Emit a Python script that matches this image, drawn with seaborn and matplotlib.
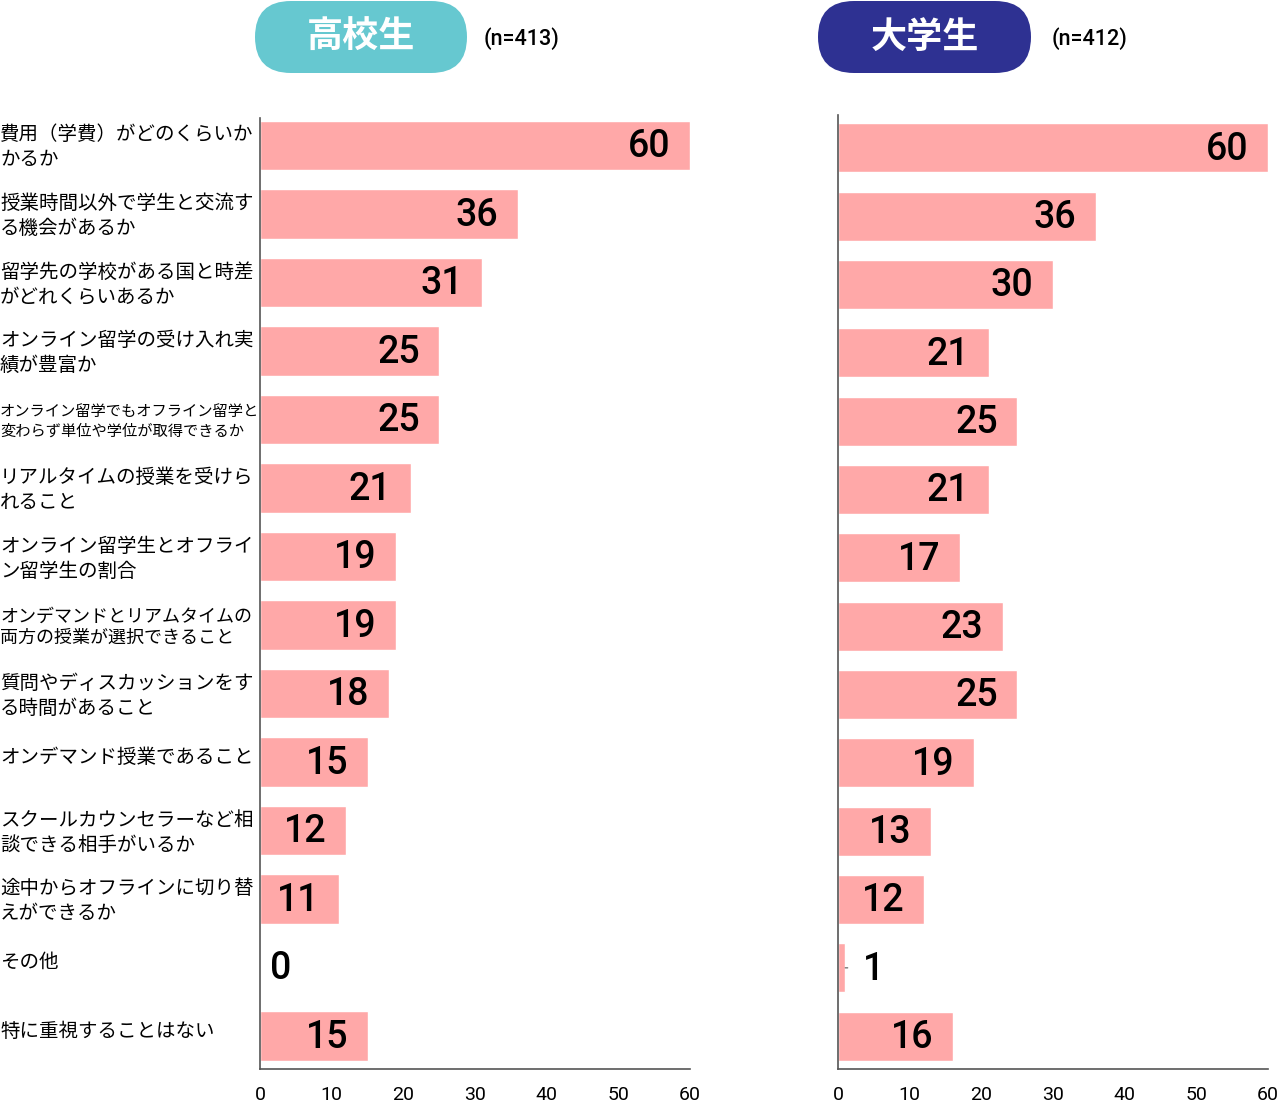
import matplotlib
matplotlib.use("Agg")
import matplotlib.pyplot as plt
import matplotlib.transforms as mtransforms
from matplotlib.patches import FancyBboxPatch
import seaborn as sns
import pandas as pd

categories = [
    "費用（学費）がどのくらいか\nかるか",
    "授業時間以外で学生と交流す\nる機会があるか",
    "留学先の学校がある国と時差\nがどれくらいあるか",
    "オンライン留学の受け入れ実\n績が豊富か",
    "オンライン留学でもオフライン留学と\n変わらず単位や学位が取得できるか",
    "リアルタイムの授業を受けら\nれること",
    "オンライン留学生とオフライ\nン留学生の割合",
    "オンデマンドとリアムタイムの\n両方の授業が選択できること",
    "質問やディスカッションをす\nる時間があること",
    "オンデマンド授業であること",
    "スクールカウンセラーなど相\n談できる相手がいるか",
    "途中からオフラインに切り替\nえができるか",
    "その他",
    "特に重視することはない",
]
high_school = [60, 36, 31, 25, 25, 21, 19, 19, 18, 15, 12, 11, 0, 15]
university = [60, 36, 30, 21, 25, 21, 17, 23, 25, 19, 13, 12, 1, 16]
panel_titles = ["高校生", "大学生"]
sample_sizes = ["(n=413)", "(n=412)"]
x_ticks = [0, 10, 20, 30, 40, 50, 60]

sns.set_theme(style="white")
plt.rcParams["font.family"] = ["Noto Sans CJK JP", "DejaVu Sans"]
plt.rcParams["text.color"] = "black"
plt.rcParams["xtick.color"] = "black"

W, H = 1278, 1102
fig = plt.figure(figsize=(W / 100, H / 100), dpi=100)

bar_color = "#FFA8A8"
spine_color = "#555555"
num_font = ["Roboto", "DejaVu Sans"]

def px_axes(x0, x1, y0, y1):
    return fig.add_axes([x0 / W, 1 - y1 / H, (x1 - x0) / W, (y1 - y0) / H])

axes_specs = [(260, 690, 118, 1069), (838, 1268, 115, 1069)]
ylims = [(13.48, -0.40), (13.48, -0.48)]
datasets = [high_school, university]

for i, (spec, vals, yl) in enumerate(zip(axes_specs, datasets, ylims)):
    ax = px_axes(*spec)
    df = pd.DataFrame({"cat": [str(k) for k in range(len(categories))], "val": vals})
    sns.barplot(data=df, x="val", y="cat", orient="h", color=bar_color,
                saturation=1, width=0.72, ax=ax)
    ax.set_xlim(0, 60)
    ax.set_ylim(*yl)
    ax.set_xticks(x_ticks)
    ax.set_xticklabels([str(t) for t in x_ticks], fontsize=14, family=num_font)
    ax.set_yticks([])
    ax.set_xlabel("")
    ax.set_ylabel("")
    for s in ["top", "right"]:
        ax.spines[s].set_visible(False)
    for s in ["left", "bottom"]:
        ax.spines[s].set_color(spine_color)
        ax.spines[s].set_linewidth(1.2)
    ax.tick_params(axis="x", direction="in", length=8, width=1.2,
                   color=spine_color, pad=12, labelcolor="black")
    for k, v in enumerate(vals):
        if v >= 5:
            ax.annotate(str(v), xy=(v, k), xytext=(-14, -1),
                        textcoords="offset points", ha="right", va="center",
                        fontsize=27, fontweight="medium", family=num_font,
                        color="black")
        else:
            if v > 0:
                ax.annotate("", xy=(v, k), xytext=(v + 0.75, k),
                            arrowprops=dict(arrowstyle="-", color=spine_color, lw=0.8))
            ax.annotate(str(v), xy=(v, k), xytext=(7 if v == 0 else 13, -1),
                        textcoords="offset points", ha="left", va="center",
                        fontsize=27, fontweight="medium", family=num_font,
                        color="black")
    if i == 0:
        trans = mtransforms.blended_transform_factory(fig.transFigure, ax.transData)
        for k, c in enumerate(categories):
            first = len(c.split("\n")[0])
            if first > 15:
                fs = 11
            elif first > 13:
                fs = 13
            else:
                fs = 14
            off = mtransforms.ScaledTranslation(0, (-2 if "\n" in c else 5) / 100,
                                                fig.dpi_scale_trans)
            ax.text(0, k, c, transform=trans + off, ha="left", va="center",
                    fontsize=fs, linespacing=1.25, color="black")

# header pills
ov = fig.add_axes([0, 0, 1, 1])
ov.set_xlim(0, W)
ov.set_ylim(H, 0)
ov.axis("off")
ov.patch.set_alpha(0)
pill_specs = [(255, 467, "#66C8D0", 484), (818, 1031, "#2E3192", 1052)]
for (x0, x1, col, nx), title, n in zip(pill_specs, panel_titles, sample_sizes):
    ov.add_patch(FancyBboxPatch((x0, 1), x1 - x0, 72,
                                boxstyle="round,pad=0,rounding_size=36",
                                facecolor=col, edgecolor="none"))
    ov.text((x0 + x1) / 2, 37, title, ha="center", va="center", color="white",
            fontsize=26, fontweight="bold")
    ov.text(nx, 39, n, ha="left", va="center", color="black", fontsize=15.5,
            fontweight="medium", family=num_font)

fig.savefig("out.png", dpi=100)
